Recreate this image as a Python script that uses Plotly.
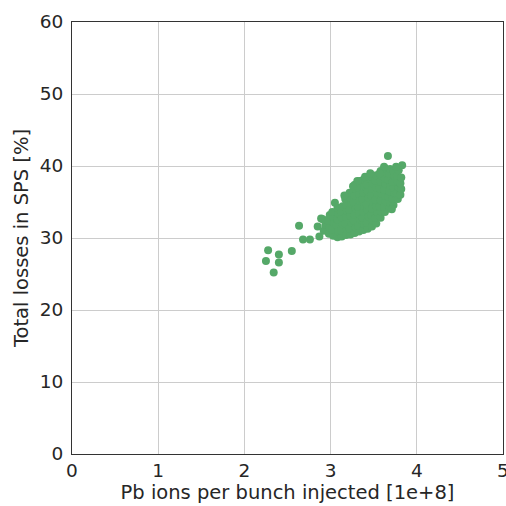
import plotly.graph_objects as go

# Injected intensity (1e8 Pb ions per bunch) and total SPS losses (%)
intensity = [
    2.25, 2.275, 2.34, 2.40, 2.40, 2.55, 2.634, 2.68, 2.76, 2.85, 2.87, 2.89,
    2.92, 2.94, 2.91,
    2.98, 2.99, 2.97, 2.99,
    3.03, 3.02, 3.04, 3.03, 3.02,
    3.08, 3.09, 3.07, 3.08, 3.09, 3.08,
    3.13, 3.12, 3.14, 3.13, 3.12, 3.14,
    3.18, 3.19, 3.17, 3.18, 3.19, 3.18, 3.17,
    3.23, 3.22, 3.24, 3.23, 3.22, 3.24, 3.23, 3.22,
    3.28, 3.29, 3.27, 3.28, 3.29, 3.27, 3.28, 3.29, 3.28,
    3.33, 3.32, 3.34, 3.33, 3.32, 3.34, 3.33, 3.32, 3.34,
    3.38, 3.39, 3.37, 3.38, 3.39, 3.37, 3.38, 3.39, 3.38,
    3.43, 3.42, 3.44, 3.43, 3.42, 3.44, 3.43, 3.42, 3.43,
    3.48, 3.49, 3.47, 3.48, 3.49, 3.47, 3.48, 3.49, 3.48,
    3.53, 3.52, 3.54, 3.53, 3.52, 3.54, 3.53, 3.52, 3.53,
    3.58, 3.59, 3.57, 3.58, 3.59, 3.57, 3.58, 3.59, 3.58,
    3.63, 3.62, 3.64, 3.63, 3.62, 3.64, 3.63, 3.62, 3.63,
    3.68, 3.69, 3.67, 3.68, 3.69, 3.67, 3.68, 3.69,
    3.73, 3.72, 3.74, 3.73, 3.72, 3.74, 3.73,
    3.78, 3.77, 3.79, 3.78, 3.77, 3.79,
    3.81, 3.82, 3.81, 3.82,
    3.665, 3.83, 3.62, 3.76, 3.40, 3.57,
    3.05, 3.16, 3.31, 3.46, 3.71, 3.26,
]
losses = [
    26.8, 28.3, 25.2, 27.7, 26.6, 28.2, 31.7, 29.8, 29.8, 31.6, 30.2, 32.7,
    31.0, 31.8, 32.6,
    30.6, 31.5, 32.4, 33.2,
    30.3, 31.2, 32.1, 32.9, 33.6,
    30.1, 30.9, 31.8, 32.6, 33.4, 34.2,
    30.2, 31.0, 31.9, 32.8, 33.6, 34.4,
    30.4, 31.2, 32.0, 32.9, 33.8, 34.6, 35.4,
    30.5, 31.3, 32.2, 33.1, 33.9, 34.8, 35.6, 36.3,
    30.7, 31.5, 32.4, 33.2, 34.1, 35.0, 35.9, 36.8, 37.4,
    30.9, 31.7, 32.6, 33.4, 34.3, 35.2, 36.1, 37.0, 37.9,
    31.1, 31.9, 32.8, 33.6, 34.5, 35.4, 36.3, 37.2, 38.1,
    31.3, 32.1, 33.0, 33.9, 34.7, 35.6, 36.5, 37.4, 38.3,
    31.6, 32.4, 33.2, 34.1, 35.0, 35.9, 36.8, 37.6, 38.5,
    32.0, 32.8, 33.6, 34.4, 35.3, 36.2, 37.0, 37.9, 38.7,
    32.8, 33.6, 34.4, 35.2, 36.1, 36.9, 37.8, 38.6, 39.3,
    33.6, 34.3, 35.1, 35.9, 36.7, 37.5, 38.3, 39.1, 39.7,
    34.1, 34.9, 35.7, 36.5, 37.3, 38.1, 38.9, 39.6,
    34.6, 35.4, 36.2, 37.0, 37.8, 38.6, 39.3,
    35.4, 36.2, 37.0, 37.8, 38.6, 39.4,
    36.0, 36.8, 37.6, 38.4,
    41.4, 40.1, 39.9, 39.9, 38.5, 39.0,
    34.9, 35.9, 37.9, 39.0, 34.0, 37.2,
]

x_ticks = [0, 1, 2, 3, 4, 5]
y_ticks = [0, 10, 20, 30, 40, 50, 60]

fig = go.Figure(
    go.Scatter(
        x=intensity,
        y=losses,
        mode="markers",
        marker=dict(color="#55a868", size=8, line=dict(width=0)),
        hoverinfo="x+y",
    )
)

tick_font = dict(family="DejaVu Sans", size=18.5, color="#262626")
title_font = dict(family="DejaVu Sans", size=19.5, color="#262626")
axis_common = dict(
    showgrid=True,
    gridcolor="#cccccc",
    gridwidth=1,
    zeroline=False,
    showline=True,
    mirror=True,
    linecolor="#333333",
    linewidth=1.25,
    ticks="",
    tickfont=tick_font,
    ticklabeloverflow="allow",
    automargin=False,
)

fig.update_layout(
    width=506,
    height=506,
    margin=dict(l=72, r=3, t=22, b=52),
    paper_bgcolor="white",
    plot_bgcolor="white",
    showlegend=False,
    font=tick_font,
    xaxis=dict(
        range=[0, 5],
        tickvals=x_ticks,
        title=dict(text="Pb ions per bunch injected [1e+8]", font=title_font, standoff=4),
        **axis_common,
    ),
    yaxis=dict(
        range=[0, 60],
        tickvals=y_ticks,
        ticklabelstandoff=4,
        title=dict(text="Total losses in SPS [%]", font=title_font, standoff=5),
        **axis_common,
    ),
)

fig.write_html("out.html")
